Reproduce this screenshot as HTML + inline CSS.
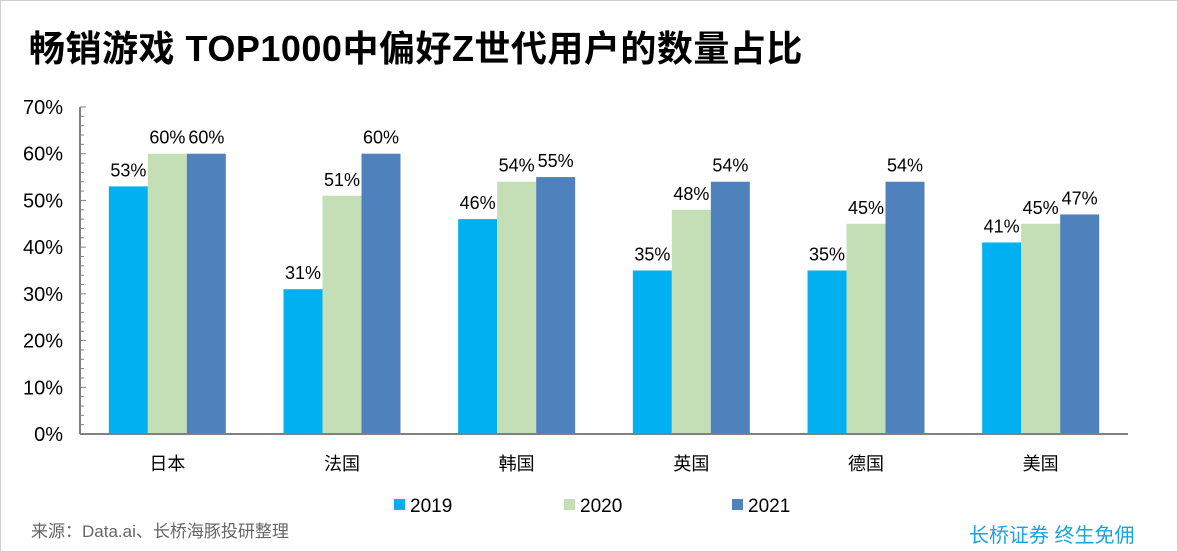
<!DOCTYPE html>
<html><head><meta charset="utf-8"><style>
body{margin:0;background:#fff;}
#wrap{position:relative;width:1176px;height:550px;border:1px solid #d0d0d0;background:#fff;overflow:hidden;font-family:"Liberation Sans","Noto Sans CJK SC",sans-serif;}
#title{position:absolute;left:28px;top:26px;font-size:36px;line-height:44px;font-weight:bold;color:#000;white-space:nowrap;letter-spacing:0.5px;}
#src{position:absolute;left:30px;top:516px;font-size:17px;color:#666;}
#brand{position:absolute;left:968px;top:518px;font-size:20px;color:#1aa3e0;}
svg{position:absolute;left:0;top:0;}
</style></head><body>
<div id="wrap">
<div id="title">畅销游戏 TOP1000中偏好Z世代用户的数量占比</div>
<svg id="chart" width="1178" height="552"></svg>
<div id="src">来源：Data.ai、长桥海豚投研整理</div>
<div id="brand">长桥证券 终生免佣</div>
</div>
<script>
const categories=["日本","法国","韩国","英国","德国","美国"];
const seriesNames=["2019","2020","2021"];
const s2019=[53,31,46,35,35,41];
const s2020=[60,51,54,48,45,45];
const s2021=[60,60,55,54,54,47];
const yTicks=[0,10,20,30,40,50,60,70];
const colors=["#00b0f0","#c4dfb6","#4f81bd"];
const NS="http://www.w3.org/2000/svg";
const svg=document.getElementById('chart');
const X0=79,X1=1127,Y0=433,Y70=106;
const y=v=>Y0-(v/70)*(Y0-Y70);
const bw=(X1-X0)/categories.length;
const x=i=>X0+bw*i+bw/2;
function mk(t,a,txt){const e=document.createElementNS(NS,t);for(const k in a)e.setAttribute(k,a[k]);if(txt!==undefined)e.textContent=txt;svg.appendChild(e);return e;}
let e=mk('line',{x1:X0,x2:X0,y1:Y70,y2:Y0,stroke:'#808080','stroke-width':2});


for(let v=0;v<=70;v+=2){const t=mk('line',{x1:X0,x2:X0+(v%10?4:6),y1:y(v),y2:y(v),stroke:'#808080','stroke-width':1});

}
yTicks.forEach(v=>{const t=mk('text',{x:X0-17,y:y(v)+7,'text-anchor':'end','font-size':20,fill:'#000','font-family':'Liberation Sans,sans-serif'},v+'%');

});
const series=[s2019,s2020,s2021];
const barW=39;
categories.forEach((c,i)=>{
  series.forEach((s,j)=>{
    const bx=x(i)-barW*1.5+j*barW;
    const r=mk('rect',{x:bx,y:y(s[i]),width:barW,height:Y0-y(s[i]),fill:colors[j]});
    
    
    const l=mk('text',{x:bx+barW/2,y:y(s[i])-10,'text-anchor':'middle','font-size':18,fill:'#000'},s[i]+'%');
    
    
  });
  const cl=mk('text',{x:x(i),y:Y0+36,'text-anchor':'middle','font-size':18,fill:'#000','font-family':'Noto Sans CJK SC,sans-serif'},c);
  
  
});
e=mk('line',{x1:X0,x2:X1,y1:Y0,y2:Y0,stroke:'#808080','stroke-width':2});


const lx=[393,563,731];
seriesNames.forEach((n,j)=>{
  const r=mk('rect',{x:lx[j],y:498,width:11,height:11,fill:colors[j]});
  
  
  const t=mk('text',{x:lx[j]+16,y:511,'font-size':19,fill:'#000'},n);
  
  
});
</script>
</body></html>
